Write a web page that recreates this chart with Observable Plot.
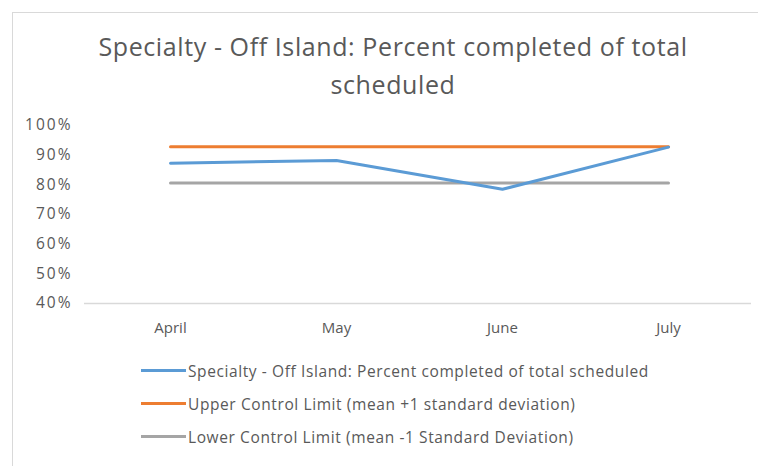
<!DOCTYPE html>
<html>
<head>
<meta charset="utf-8">
<script src="https://cdn.jsdelivr.net/npm/d3@7"></script>
<script src="https://cdn.jsdelivr.net/npm/@observablehq/plot@0.6"></script>
<style>
  html, body { margin: 0; padding: 0; background: #fff; }
  #wrap { position: relative; width: 758px; height: 466px; overflow: hidden; font-family: "Open Sans", sans-serif; }
  #frame { position: absolute; left: 12px; top: 12px; right: -5px; bottom: -5px; border-left: 1px solid #d9d9d9; border-top: 1px solid #d9d9d9; }
  #title { position: absolute; left: 0; width: 786px; top: 27px; text-align: center; font-size: 25px; letter-spacing: 0.6px; line-height: 38px; color: #595959; }
  #chart { position: absolute; left: 0; top: 100px; }
  #chart g[aria-label="y-axis tick label"] text { letter-spacing: 2px; font-size: 15.5px; }
  #legend { position: absolute; left: 141px; top: 354px; font-size: 15.5px; letter-spacing: 0.6px; color: #595959; }
  .item { display: flex; align-items: center; height: 33px; }
  .sw { width: 45px; height: 3px; margin-right: 2px; }
</style>
</head>
<body>
<div id="wrap">
  <div id="frame"></div>
  <div id="title">Specialty - Off Island: Percent completed of total<br>scheduled</div>
  <div id="chart"></div>
  <div id="legend"></div>
</div>
<script>
const months = ["April", "May", "June", "July"];
const pctCompleted = [87.3, 88.2, 78.5, 92.7];
const upperLimit = [92.8, 92.8, 92.8, 92.8];
const lowerLimit = [80.6, 80.6, 80.6, 80.6];
const yTicks = [40, 50, 60, 70, 80, 90, 100];
const seriesNames = [
  "Specialty - Off Island: Percent completed of total scheduled",
  "Upper Control Limit (mean +1 standard deviation)",
  "Lower Control Limit (mean -1 Standard Deviation)"
];
const seriesColors = ["#5b9bd5", "#ed7d31", "#a5a5a5"];

const rows = [];
[pctCompleted, upperLimit, lowerLimit].forEach((vals, s) => {
  months.forEach((m, i) => rows.push({month: m, value: vals[i], series: seriesNames[s]}));
});

const plot = Plot.plot({
  width: 758,
  height: 240,
  marginTop: 25,
  marginBottom: 37,
  marginLeft: 87,
  marginRight: 7,
  style: {fontFamily: "Open Sans, sans-serif", fontSize: "15px", color: "#595959", background: "transparent"},
  x: {type: "point", domain: months, padding: 0.5, label: null, tickSize: 0, tickPadding: 19},
  y: {domain: [40, 100], ticks: yTicks, tickFormat: d => d + "%", label: null, tickSize: 0, tickPadding: 15},
  color: {domain: seriesNames, range: seriesColors},
  marks: [
    Plot.ruleY([40], {stroke: "#d9d9d9", strokeWidth: 1.5, insetLeft: -3}),
    Plot.line(rows.filter(d => d.series !== seriesNames[0]), {x: "month", y: "value", z: "series", stroke: "series", strokeWidth: 3}),
    Plot.line(rows.filter(d => d.series === seriesNames[0]), {x: "month", y: "value", stroke: "series", strokeWidth: 3})
  ]
});
document.getElementById("chart").appendChild(plot);

const leg = document.getElementById("legend");
seriesNames.forEach((n, i) => {
  const it = document.createElement("div");
  it.className = "item";
  it.innerHTML = `<div class="sw" style="background:${seriesColors[i]}"></div><span>${n}</span>`;
  leg.appendChild(it);
});
</script>
</body>
</html>
